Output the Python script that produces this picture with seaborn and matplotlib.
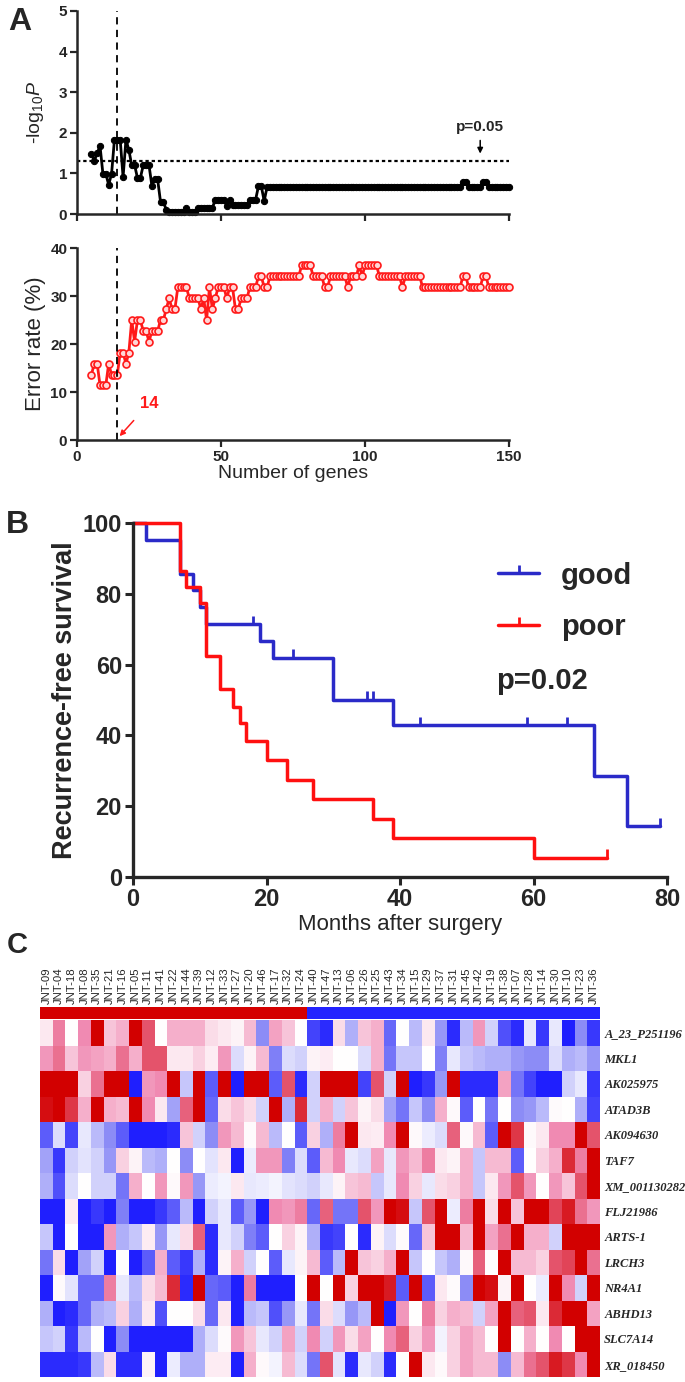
import matplotlib
matplotlib.use('Agg')
import pandas as pd
import matplotlib.pyplot as plt
import seaborn as sns
from matplotlib.colors import LinearSegmentedColormap, ListedColormap
from matplotlib.lines import Line2D
from matplotlib.path import Path

# %% Panel A data (number of genes 5..150)
n_genes = list(range(5, 151))

neg_log_p = [
    1.49, 1.31, 1.50, 1.67, 0.99, 0.99, 0.72, 0.99, 1.83, 1.83,
    1.83, 0.91, 1.83, 1.58, 1.20, 1.20, 0.89, 0.89, 1.20, 1.20,
    1.20, 0.70, 0.85, 0.85, 0.30, 0.30, 0.10, 0.06, 0.06, 0.06,
    0.06, 0.06, 0.06, 0.15, 0.06, 0.06, 0.06, 0.15, 0.15, 0.15,
    0.15, 0.15, 0.15, 0.35, 0.35, 0.35, 0.35, 0.20, 0.35, 0.22,
    0.22, 0.22, 0.22, 0.22, 0.22, 0.35, 0.35, 0.35, 0.68, 0.68,
    0.32, 0.67, 0.67, 0.67, 0.67, 0.67, 0.67, 0.67, 0.67, 0.67,
    0.67, 0.67, 0.67, 0.67, 0.67, 0.67, 0.67, 0.67, 0.67, 0.67,
    0.67, 0.67, 0.67, 0.67, 0.67, 0.67, 0.67, 0.67, 0.67, 0.67,
    0.67, 0.67, 0.67, 0.67, 0.67, 0.67, 0.67, 0.67, 0.67, 0.67,
    0.67, 0.67, 0.67, 0.67, 0.67, 0.67, 0.67, 0.67, 0.67, 0.67,
    0.67, 0.67, 0.67, 0.67, 0.67, 0.67, 0.67, 0.67, 0.67, 0.67,
    0.67, 0.67, 0.67, 0.67, 0.67, 0.67, 0.67, 0.67, 0.67, 0.80,
    0.80, 0.67, 0.67, 0.67, 0.67, 0.67, 0.80, 0.80, 0.67, 0.67,
    0.67, 0.67, 0.67, 0.67, 0.67, 0.67,
]

error_rate = [
    13.6, 15.9, 15.9, 11.4, 11.4, 11.4, 15.9, 13.6, 13.6, 13.6,
    18.2, 18.2, 15.9, 18.2, 25.0, 20.5, 25.0, 25.0, 22.7, 22.7,
    20.5, 22.7, 22.7, 22.7, 25.0, 25.0, 27.3, 29.5, 27.3, 27.3,
    31.8, 31.8, 31.8, 31.8, 29.5, 29.5, 29.5, 29.5, 27.3, 29.5,
    25.0, 31.8, 27.3, 29.5, 31.8, 31.8, 31.8, 29.5, 31.8, 31.8,
    27.3, 27.3, 29.5, 29.5, 29.5, 31.8, 31.8, 31.8, 34.1, 34.1,
    31.8, 31.8, 34.1, 34.1, 34.1, 34.1, 34.1, 34.1, 34.1, 34.1,
    34.1, 34.1, 34.1, 36.4, 36.4, 36.4, 36.4, 34.1, 34.1, 34.1,
    34.1, 31.8, 31.8, 34.1, 34.1, 34.1, 34.1, 34.1, 34.1, 31.8,
    34.1, 34.1, 34.1, 36.4, 34.1, 36.4, 36.4, 36.4, 36.4, 36.4,
    34.1, 34.1, 34.1, 34.1, 34.1, 34.1, 34.1, 34.1, 31.8, 34.1,
    34.1, 34.1, 34.1, 34.1, 34.1, 31.8, 31.8, 31.8, 31.8, 31.8,
    31.8, 31.8, 31.8, 31.8, 31.8, 31.8, 31.8, 31.8, 31.8, 34.1,
    34.1, 31.8, 31.8, 31.8, 31.8, 31.8, 34.1, 34.1, 31.8, 31.8,
    31.8, 31.8, 31.8, 31.8, 31.8, 31.8,
]

# %% Panel B data (Kaplan-Meier steps)
good_time = [0, 2, 7, 9, 10, 11, 19, 21, 30, 39, 69, 74, 79]
good_surv = [100, 95.2, 85.7, 81.0, 76.2, 71.4, 66.7, 61.9, 50.0, 42.9, 28.6, 14.3, 14.3]
good_cens_time = [18, 24, 35, 36, 43, 59, 65, 79]
good_cens_surv = [71.4, 61.9, 50.0, 50.0, 42.9, 42.9, 42.9, 14.3]

poor_time = [0, 7, 8, 10, 11, 13, 15, 16, 17, 20, 23, 27, 36, 39, 60, 71]
poor_surv = [100, 86.4, 81.8, 77.3, 62.5, 53.0, 48.0, 43.5, 38.5, 33.0, 27.5, 22.0, 16.5, 11.0, 5.5, 5.5]
poor_cens_time = [71]
poor_cens_surv = [5.5]

# %% Panel C data (heatmap)
samples = ['JNT-09', 'JNT-04', 'JNT-18', 'JNT-08', 'JNT-35', 'JNT-21', 'JNT-16',
           'JNT-05', 'JNT-11', 'JNT-41', 'JNT-22', 'JNT-44', 'JNT-39', 'JNT-12',
           'JNT-33', 'JNT-27', 'JNT-20', 'JNT-46', 'JNT-17', 'JNT-32', 'JNT-24',
           'JNT-40', 'JNT-47', 'JNT-13', 'JNT-06', 'JNT-26', 'JNT-25', 'JNT-43',
           'JNT-34', 'JNT-15', 'JNT-29', 'JNT-37', 'JNT-31', 'JNT-45', 'JNT-42',
           'JNT-19', 'JNT-38', 'JNT-07', 'JNT-28', 'JNT-14', 'JNT-30', 'JNT-10',
           'JNT-23', 'JNT-36']
groups = ['poor'] * 21 + ['good'] * 23

gene_names = ['A_23_P251196', 'MKL1', 'AK025975', 'ATAD3B', 'AK094630', 'TAF7',
              'XM_001130282', 'FLJ21986', 'ARTS-1', 'LRCH3', 'NR4A1', 'ABHD13',
              'SLC7A14', 'XR_018450']

expr = [
    [0.1, 0.55, 0, 0.5, 1, 0.25, 0.35, 1, 0.7, 0, 0.35, 0.35, 0.35, 0.15, 0.1, 0.05, 0.3, -0.5, 0.4, 0.25, 0,
     -0.8, -0.9, 0.15, -0.35, 0.25, 0.35, -0.65, 0, -0.3, 0.1, -0.45, -0.9, -0.3, 0.45, -0.2, -0.75, -0.9, -0.1, -0.85, -0.1, -0.95, -0.5, -0.85],
    [0.45, 0.6, 0.25, 0.45, 0.4, 0.35, 0.6, 0.35, 0.7, 0.7, 0.1, 0.1, 0.2, 0.08, 0.45, -0.15, 0.05, 0.3, -0.55, -0.15, -0.2,
     0.05, 0.08, 0, 0, -0.15, 0.35, -0.6, -0.25, -0.25, 0, -0.55, -0.1, -0.25, -0.3, -0.35, -0.35, -0.45, -0.5, -0.5, -0.15, -0.35, -0.3, -0.45],
    [1, 1, 1, 0.2, 0.6, 1, 1, -0.95, 0.45, 0.5, 1, -0.25, 1, -0.7, 1, -0.95, 1, 1, -0.7, 0.7, -0.9,
     -0.2, 1, 1, 1, -0.8, 0.7, -0.2, 1, -0.95, -0.85, -0.45, 1, -0.9, -0.9, -0.9, 0.4, -0.6, -0.8, -0.95, -0.95, -0.2, -0.1, -0.85],
    [0.95, 1, 0.8, 0.35, 1, 0.35, 0.3, 1, 0.5, 0.1, -0.4, 0.65, 1, -0.65, 0.15, 0.25, 0.15, -0.2, 1, -0.35, 0.85,
     -0.2, 0.35, -0.2, 0.25, 0.05, 0.15, -0.4, -0.6, -0.25, -0.5, 0.35, 0.03, -0.7, 0, -0.6, 0, -0.5, -0.45, -0.3, 0.02, 0, -0.35, -0.8],
    [-0.7, -0.15, -0.8, -0.1, -0.3, -0.5, -0.7, -0.95, -0.95, -0.95, -0.9, 0.25, -0.2, -0.5, 0.45, 0.3, 0.02, 0.3, -0.3, 0, -0.7,
     0.2, -0.35, 0.55, 1, 0.1, 0.08, 0.5, 1, 0.03, -0.08, -0.15, 0.65, 0.03, 0.3, -0.7, 1, 0.8, 0.03, 0.1, 0.5, 0.5, 1, 0.7],
    [-0.4, -0.85, -0.2, -0.12, -0.2, -0.45, 0.2, 0.05, -0.3, -0.35, 0, -0.5, 0, -0.12, 0.1, -0.95, -0.08, 0.45, 0.45, -0.55, -0.15,
     -0.7, 0.3, 0.5, -0.1, -0.15, 0.4, -0.1, 0.45, 0.3, 0.55, 0.1, 0.05, 0.35, -0.25, 0.3, 0.3, -0.7, 0, 0.2, 0.35, 0.85, 0.55, 1],
    [-0.35, -0.75, -0.15, 0, -0.2, -0.2, -0.6, 0.35, 0, 0.45, 0.03, 0.45, -0.45, -0.08, -0.05, 0.1, -0.1, -0.08, -0.05, -0.12, -0.15,
     -0.2, -0.1, 0.05, 0.25, 0.3, -0.25, -0.1, 0.5, 0.2, -0.1, 0.15, 0.2, 0.35, -0.25, 0.1, 0.45, 0.7, 0.45, 0, 0.45, 0.25, 0.7, 1],
    [-0.95, -0.95, 0.08, -0.95, -0.85, -0.95, -0.55, -0.95, -0.95, -0.85, -0.7, -0.3, -0.95, -0.2, -0.1, -0.7, -0.45, -0.95, 0.5, 0.45, 0.55,
     -0.65, 0.65, -0.6, -0.6, 0.7, 0.45, 1, 0.95, -0.25, 0.7, 1, -0.08, 0.55, 1, 0.15, 1, 0.25, 1, 1, 0.75, 0.9, 0.6, 0.45],
    [-0.25, -0.95, 0, -0.95, -0.95, 0.45, -0.35, -0.25, 0.08, -0.45, -0.1, 0.15, 0.65, -0.9, -0.1, -0.2, -0.55, -0.7, 0, 0.2, 0.05,
     -0.35, -0.85, -0.8, 0, -0.9, 0.05, -0.15, 0.02, -0.65, 0.25, 1, 1, 0.3, 1, 0.4, 0.6, 1, 0.35, 0.35, -0.2, 1, 1, 1],
    [-0.6, 0.15, -0.95, -0.4, -0.2, -0.95, 0, -0.95, -0.7, 0.35, -0.7, -0.85, -0.35, -0.9, 0.05, 0.35, -0.2, 0, -0.7, -0.1, 0.05,
     0.3, -0.7, -0.3, 1, 0.25, 0.2, 0.35, 1, -0.25, 0, -0.25, -0.35, 0.03, 0.65, 0, 1, 0.3, 0.3, 0.2, 0.7, 0.75, 1, 0.6],
    [-0.95, 0.02, -0.12, -0.65, -0.65, 0.55, -0.1, -0.3, 0.15, 0.3, 0.85, -0.9, 1, -0.65, -0.7, -0.95, 0.55, -0.95, -0.95, -0.95, 0,
     1, 0, 1, 0.2, 1, 1, 0.9, -0.7, 1, -0.7, 0.1, 0.02, -0.5, 1, 0.95, 0.05, 1, 0, -0.08, 1, 0.5, -0.2, 1],
    [-0.35, -0.95, -0.9, -0.65, -0.35, -0.3, 0.2, -0.35, 0.1, -0.75, 0, 0, 0.15, -0.65, 0.1, -0.95, -0.3, -0.25, -0.75, -0.45, -0.1,
     -0.6, 0.15, -0.15, -0.45, -0.3, 1, -0.95, 0.45, 0, 0.55, 0.2, 0.35, 0.3, -0.2, 0.4, 1, 0.65, 0.7, 0.1, 0.85, 1, 1, 0.4],
    [-0.25, -0.2, -0.85, -0.3, 0, -0.95, -0.5, -0.95, -0.95, -0.95, -0.95, -0.95, -0.35, -0.15, 0.02, 0.45, 0.25, -0.1, -0.2, 0.4, -0.2,
     0.5, -0.2, 0.45, 0.15, 0.4, 0, 0.5, 0.65, 0.2, 0.45, -0.05, 0.2, 0.4, 0.3, 0, 1, 0, 0.35, 0, 0.5, 0, 1, 1],
    [-0.9, -0.9, -0.9, -0.85, -0.3, 0.15, -0.9, -0.9, 0.05, -0.95, -0.08, -0.35, -0.35, 0.08, 0.08, -0.95, 0.35, 0.03, -0.05, 0.3, -0.15,
     -0.6, 0.7, -0.12, -0.9, -0.1, -0.2, -0.9, 0, 1, 0.1, 0.03, 0.2, 0.4, 0.3, 0.3, -0.5, 0.3, 0.6, 0.7, 0.9, 0.8, 0.5, 1],
]

# %% Style
sns.set_style('ticks')
plt.rcParams['font.family'] = ['Liberation Sans', 'DejaVu Sans']
plt.rcParams['mathtext.fontset'] = 'custom'
plt.rcParams['mathtext.rm'] = 'Liberation Sans'
plt.rcParams['mathtext.it'] = 'Liberation Sans:italic'

narrow = ['Liberation Sans Narrow', 'Liberation Sans']
W, H = 685, 1382
fig = plt.figure(figsize=(W / 100, H / 100), dpi=100)


def px_axes(x0, y0, x1, y1):
    # axes from pixel box (left, top, right, bottom)
    return fig.add_axes([x0 / W, 1 - y1 / H, (x1 - x0) / W, (y1 - y0) / H])


def style_a(ax):
    sns.despine(ax=ax)
    for s in ['left', 'bottom']:
        ax.spines[s].set_linewidth(1.8)
    ax.tick_params(direction='out', length=5, width=1.6, pad=2)
    for lab in ax.get_xticklabels() + ax.get_yticklabels():
        lab.set_family(narrow)
        lab.set_fontweight('bold')
        lab.set_fontsize(11)


# %% Panel A - top
ax1 = px_axes(77, 11, 509, 214)
sns.lineplot(x=n_genes, y=neg_log_p, ax=ax1, color='black', linewidth=2,
             marker='o', markersize=4.5, markeredgecolor='black', clip_on=False)
ax1.axvline(14, color='black', linestyle=(0, (4, 3)), linewidth=1.3)
ax1.axhline(1.3, color='black', linestyle=(0, (1.5, 1.3)), linewidth=1.6)
ax1.set_xlim(0, 150)
ax1.set_ylim(0, 5)
ax1.set_xticks([0, 50, 100, 150])
ax1.set_xticklabels([])
ax1.set_yticks([0, 1, 2, 3, 4, 5])
ax1.set_ylabel(r'-log$_{10}$$\it{P}$', fontsize=14, labelpad=9)
style_a(ax1)
ax1.text(140, 2.15, 'p=0.05', ha='center', va='center', fontsize=11,
         fontweight='bold', family=narrow)
ax1.annotate('', xy=(140, 1.42), xytext=(140, 1.88),
             arrowprops=dict(arrowstyle='-|>', color='black', lw=1.1,
                             mutation_scale=8))

# %% Panel A - bottom
ax2 = px_axes(77, 248, 509, 440)
sns.lineplot(x=n_genes, y=error_rate, ax=ax2, color='#ff1a1a', linewidth=2,
             marker='o', markersize=5, markerfacecolor='#ffd6d6',
             markeredgecolor='#ff1a1a', markeredgewidth=1.2, clip_on=False)
ax2.axvline(14, color='black', linestyle=(0, (4, 3)), linewidth=1.3)
ax2.set_xlim(0, 150)
ax2.set_ylim(0, 40)
ax2.set_xticks([0, 50, 100, 150])
ax2.set_yticks([0, 10, 20, 30, 40])
ax2.set_ylabel('Error rate (%)', fontsize=16, labelpad=3)
ax2.set_xlabel('Number of genes', fontsize=14, labelpad=1)
style_a(ax2)
ax2.annotate('14', xy=(14.8, 0.8), xytext=(25, 7.6), color='#ff1a1a',
             fontsize=12, fontweight='bold', family=narrow,
             ha='center', va='center',
             arrowprops=dict(arrowstyle='-|>', color='#ff1a1a', lw=1.1,
                             mutation_scale=8, shrinkA=6, shrinkB=0))

# %% Panel B - survival
blue = '#2a2ac8'
red = '#ff1010'
tick_up = Path([(0, 0), (0, 1)])

ax3 = px_axes(133, 523, 667, 877)
sns.lineplot(x=good_time, y=good_surv, ax=ax3, color=blue, linewidth=2.5,
             drawstyle='steps-post', estimator=None, clip_on=False)
sns.lineplot(x=poor_time, y=poor_surv, ax=ax3, color=red, linewidth=2.5,
             drawstyle='steps-post', estimator=None, clip_on=False)
sns.scatterplot(x=good_cens_time, y=good_cens_surv, ax=ax3, marker=tick_up,
                s=150, edgecolor=blue, facecolor='none', linewidth=2, clip_on=False)
sns.scatterplot(x=poor_cens_time, y=poor_cens_surv, ax=ax3, marker=tick_up,
                s=150, edgecolor=red, facecolor='none', linewidth=2, clip_on=False)
ax3.set_xlim(0, 80)
ax3.set_ylim(0, 100)
ax3.set_xticks([0, 20, 40, 60, 80])
ax3.set_yticks([0, 20, 40, 60, 80, 100])
sns.despine(ax=ax3)
for s in ['left', 'bottom']:
    ax3.spines[s].set_linewidth(2.4)
ax3.tick_params(direction='out', length=6, width=2.2, pad=2, labelsize=17)
for lab in ax3.get_xticklabels() + ax3.get_yticklabels():
    lab.set_fontweight('bold')
ax3.set_ylabel('Recurrence-free survival', fontsize=19.5, fontweight='bold', labelpad=3)
ax3.set_xlabel('Months after surgery', fontsize=16, labelpad=2)

handles = [
    Line2D([0], [0], color=blue, lw=2.5, marker=tick_up, markersize=12,
           markeredgewidth=2, markevery=[1], label='good'),
    Line2D([0], [0], color=red, lw=2.5, marker=tick_up, markersize=12,
           markeredgewidth=2, markevery=[1], label='poor'),
]
for h in handles:
    h.set_data([0, 0.5, 1], [0, 0, 0])
ax3.legend(handles=handles, loc='upper left', bbox_to_anchor=(0.635, 0.965),
           frameon=False, prop={'size': 21, 'weight': 'bold'},
           handlelength=1.4, labelspacing=0.8, handletextpad=0.75)
ax3.text(0.68, 0.555, 'p=0.02', transform=ax3.transAxes, fontsize=21,
         fontweight='bold', va='center', ha='left')

# %% Panel C - heatmap
expr_df = pd.DataFrame(expr, index=gene_names, columns=samples)
hm_cmap = LinearSegmentedColormap.from_list(
    'expr', [(0.0, '#1414ff'), (0.25, '#8c8cf6'), (0.5, '#ffffff'),
             (0.75, '#f08cb4'), (1.0, '#d20000')])

axg = px_axes(40, 1007, 600, 1019)
group_df = pd.DataFrame([[0 if g == 'poor' else 1 for g in groups]], columns=samples)
sns.heatmap(group_df, ax=axg, cmap=ListedColormap(['#d40000', '#2323ff']),
            cbar=False, xticklabels=True, yticklabels=False)
axg.xaxis.tick_top()
axg.tick_params(axis='x', length=0, pad=2)
for lab in axg.get_xticklabels():
    lab.set_rotation(90)
    lab.set_fontsize(8.2)
    lab.set_va('bottom')
    lab.set_ha('center')

axh = px_axes(40, 1020, 600, 1377)
sns.heatmap(expr_df, ax=axh, cmap=hm_cmap, vmin=-1, vmax=1, cbar=False,
            xticklabels=False, yticklabels=True)
axh.yaxis.tick_right()
axh.tick_params(axis='y', length=0, pad=3)
for lab in axh.get_yticklabels():
    lab.set_rotation(0)
    lab.set_family(['Liberation Serif', 'DejaVu Serif'])
    lab.set_fontweight('bold')
    lab.set_fontstyle('italic')
    lab.set_fontsize(9)
    lab.set_ha('left')

# %% Panel letters
fig.text(8 / W, 1 - 22 / H, 'A', fontsize=23, fontweight='bold', va='center')
fig.text(6 / W, 1 - 525 / H, 'B', fontsize=23, fontweight='bold', va='center')
fig.text(7 / W, 1 - 945 / H, 'C', fontsize=21, fontweight='bold', va='center')

fig.savefig('out.png', dpi=100)
